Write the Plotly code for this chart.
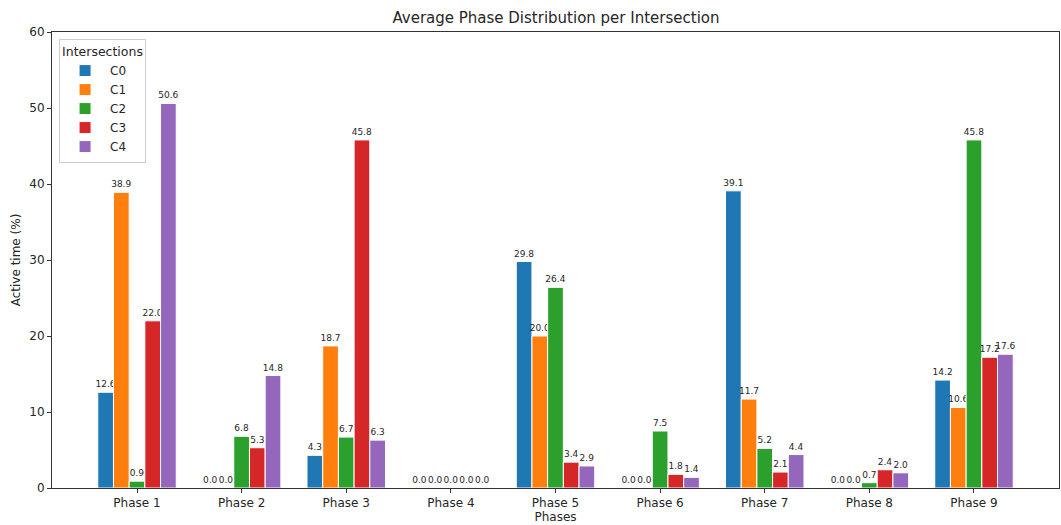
import plotly.graph_objects as go

phases = ["Phase 1", "Phase 2", "Phase 3", "Phase 4", "Phase 5", "Phase 6", "Phase 7", "Phase 8", "Phase 9"]
series_names = ["C0", "C1", "C2", "C3", "C4"]
c0 = [12.6, 0.0, 4.3, 0.0, 29.8, 0.0, 39.1, 0.0, 14.2]
c1 = [38.9, 0.0, 18.7, 0.0, 20.0, 0.0, 11.7, 0.0, 10.6]
c2 = [0.9, 6.8, 6.7, 0.0, 26.4, 7.5, 5.2, 0.7, 45.8]
c3 = [22.0, 5.3, 45.8, 0.0, 3.4, 1.8, 2.1, 2.4, 17.2]
c4 = [50.6, 14.8, 6.3, 0.0, 2.9, 1.4, 4.4, 2.0, 17.6]
colors = ["#1f77b4", "#ff7f0e", "#2ca02c", "#d62728", "#9467bd"]
y_ticks = [0, 10, 20, 30, 40, 50, 60]

font_family = "DejaVu Sans"
fig = go.Figure()
for name, vals, col in zip(series_names, [c0, c1, c2, c3, c4], colors):
    fig.add_trace(go.Bar(
        x=phases, y=vals, name=name,
        marker=dict(color=col, line=dict(color="white", width=1)),
        text=[f"{v:.1f}" for v in vals],
        textposition="outside",
        constraintext="none",
        cliponaxis=False,
        textfont=dict(size=9, color="#262626", family=font_family),
    ))

fig.update_layout(
    width=1061, height=525,
    margin=dict(l=52, r=2, t=32, b=37),
    barmode="group", bargap=0.25, bargroupgap=0,
    plot_bgcolor="white", paper_bgcolor="white",
    font=dict(family=font_family, size=12, color="#262626"),
    title=dict(text="Average Phase Distribution per Intersection", x=0.524, xanchor="center",
               y=0.966, yanchor="middle", font=dict(size=15)),
    legend=dict(title=dict(text="Intersections", side="top", font=dict(size=12.5)),
                x=0.007, y=0.985, xanchor="left", yanchor="top",
                bordercolor="#cccccc", borderwidth=1, bgcolor="rgba(255,255,255,0.8)",
                font=dict(size=12), tracegroupgap=0, itemwidth=40),
    xaxis=dict(title=dict(text="Phases", font=dict(size=12), standoff=2),
               range=[-0.8125, 8.8125], showline=True, mirror=True, linecolor="#333333",
               linewidth=1, ticks="outside", ticklen=4, tickcolor="#333333", showgrid=False,
               tickfont=dict(size=12)),
    yaxis=dict(title=dict(text="Active time (%)", font=dict(size=12), standoff=6),
               range=[0, 60], tickvals=y_ticks, showline=True, mirror=True,
               linecolor="#333333", linewidth=1, ticks="outside", ticklen=4,
               tickcolor="#333333", showgrid=False, zeroline=False, tickfont=dict(size=12)),
)

fig.write_html("out.html")
